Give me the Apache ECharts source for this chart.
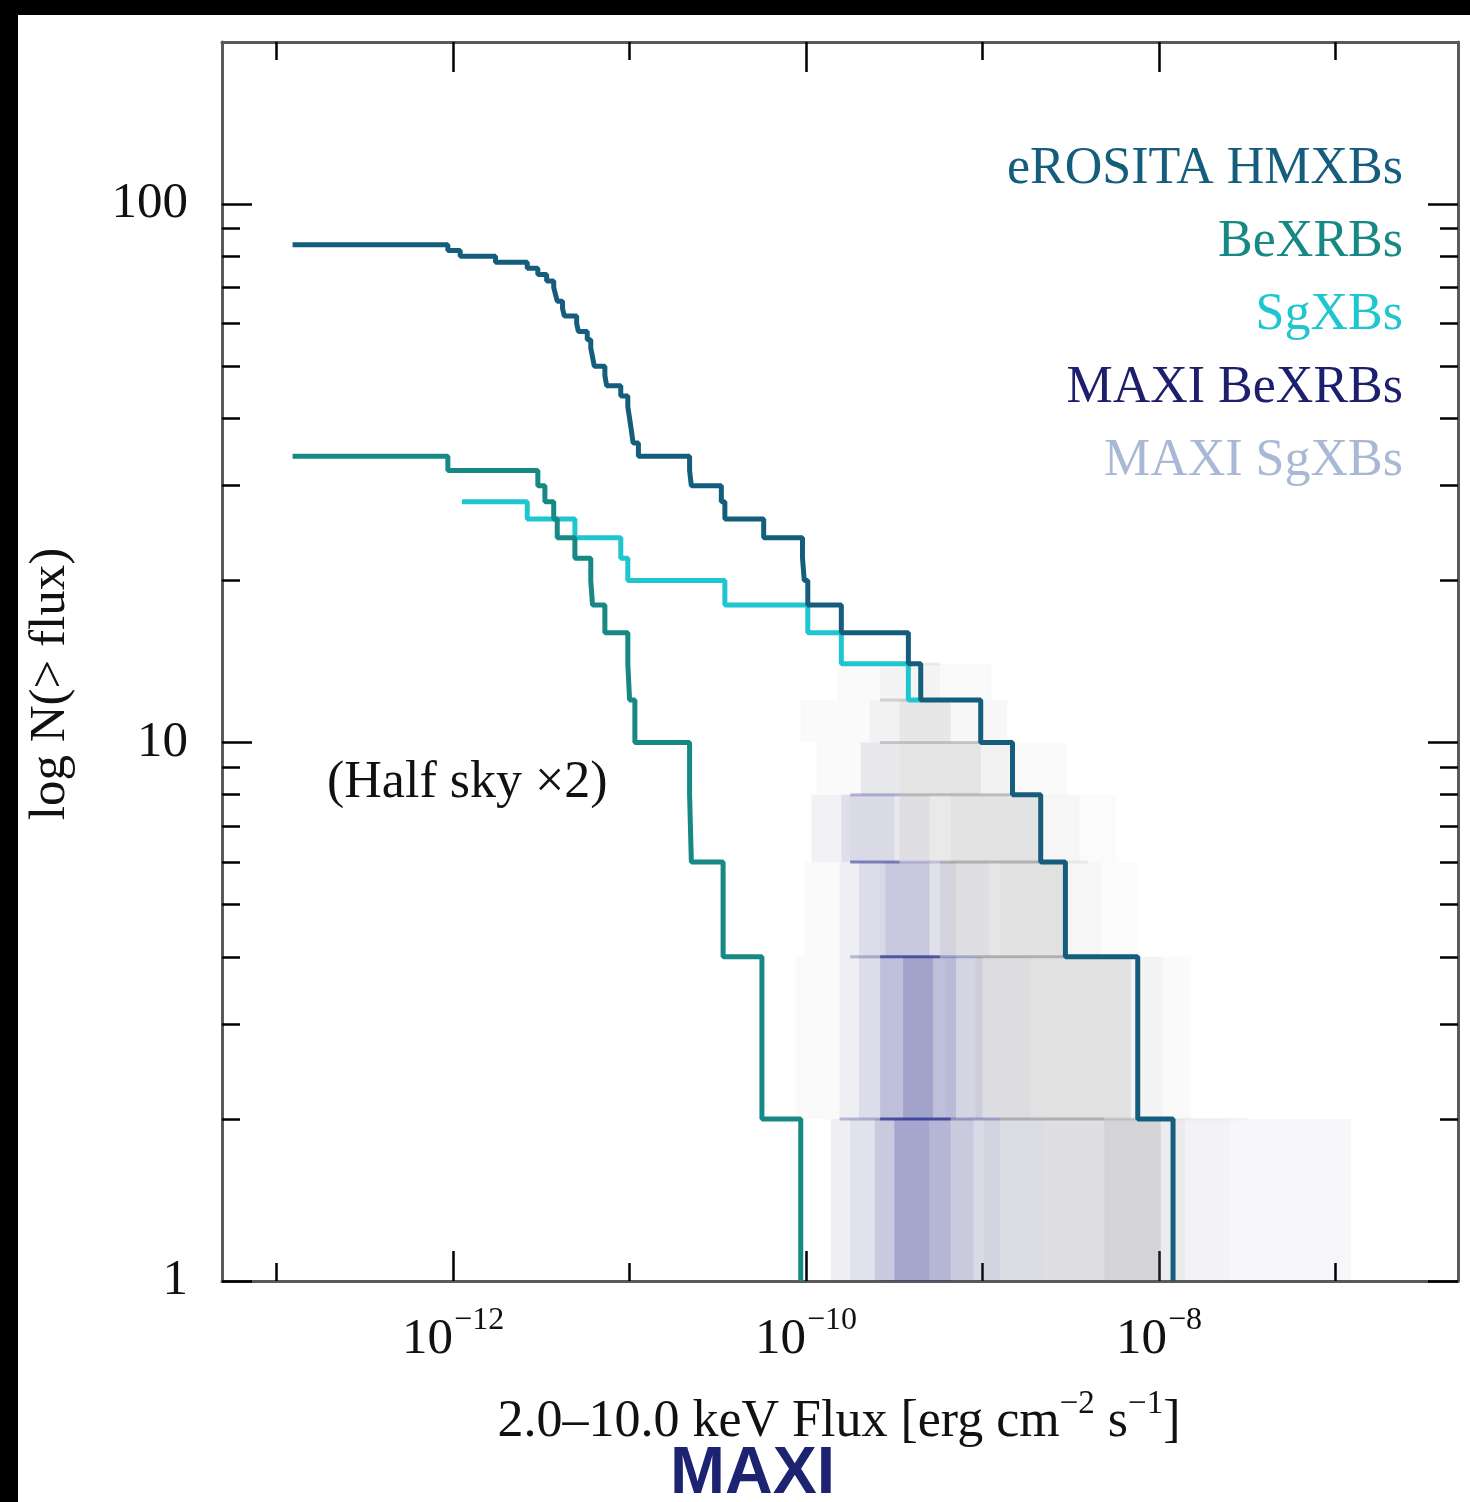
<!DOCTYPE html>
<html>
<head>
<meta charset="utf-8">
<script src="https://cdn.jsdelivr.net/npm/echarts@6/dist/echarts.min.js"></script>
<style>
html,body{margin:0;padding:0;background:#000;width:1470px;height:1502px;overflow:hidden}
#c{position:absolute;left:18px;top:15px;width:1452px;height:1487px;background:#fff}
</style>
</head>
<body>
<div id="c"></div>
<script>
// ---------------- data ----------------
const seriesNames = ['eROSITA HMXBs', 'BeXRBs', 'SgXBs', 'MAXI BeXRBs', 'MAXI SgXBs'];

// axis ranges (flux exponents / counts)
const xLogMin = -13.31, xLogMax = -6.305;
const yMin = 1, yMax = 200;

// tick values
const xLabelValues = [1e-12, 1e-10, 1e-8];
const xMajorTickValues = [1e-12, 1e-10, 1e-8];
const xMinorTickValues = [1e-13, 1e-11, 1e-9, 1e-7];
const yLabelValues = [1, 10, 100];
const yMajorTickValues = [1, 10, 100];
const yMinorTickValues = [2, 3, 4, 5, 6, 7, 8, 9, 20, 30, 40, 50, 60, 70, 80, 90];

// eROSITA HMXBs cumulative counts: log10 flux where N steps to the given value
const erositaLogFlux = [-12.91, -12.03, -11.96, -11.76, -11.58, -11.52, -11.47, -11.43, -11.42, -11.41,
  -11.38, -11.37, -11.30, -11.29, -11.24, -11.22, -11.21, -11.20, -11.14, -11.13,
  -11.05, -11.01, -11.00, -10.99, -10.98, -10.95, -10.66, -10.65, -10.48, -10.46,
  -10.24, -10.02, -10.01, -9.99, -9.80, -9.42, -9.35, -9.01, -8.83, -8.67,
  -8.53, -8.12, -7.92];
const erositaN = [84, 82, 80, 78, 76, 74, 72, 70, 68, 66,
  64, 62, 60, 58, 56, 54, 52, 50, 48, 46,
  44, 42, 40, 38, 36, 34, 32, 30, 28, 26,
  24, 22, 20, 18, 16, 14, 12, 10, 8, 6,
  4, 2, 1];

// BeXRBs
const bexrbLogFlux = [-12.91, -12.03, -11.52, -11.48, -11.43, -11.41, -11.31, -11.22, -11.21, -11.14,
  -11.01, -11.00, -10.97, -10.66, -10.65, -10.47, -10.25, -10.03];
const bexrbN = [34, 32, 30, 28, 26, 24, 22, 20, 18, 16,
  14, 12, 10, 8, 6, 4, 2, 1];

// SgXBs
const sgxbLogFlux = [-11.95, -11.58, -11.31, -11.05, -11.01, -10.46, -9.99, -9.80, -9.42, -9.35];
const sgxbN = [28, 26, 24, 22, 20, 18, 16, 14, 12, 12];

// MAXI realisations, shown as a density haze: [logFluxStart, logFluxEnd, nLow, nHigh, opacity]
// rows with nLow == nHigh are the dense horizontal level lines
const maxiBeHaze = [
  [-9.86, -9.75, 1, 2, 0.04], [-9.75, -9.61, 1, 2, 0.10], [-9.61, -9.50, 1, 2, 0.22], [-9.50, -9.30, 1, 2, 0.40],
  [-9.30, -9.18, 1, 2, 0.32], [-9.18, -9.05, 1, 2, 0.20], [-9.05, -8.90, 1, 2, 0.12], [-8.90, -8.65, 1, 2, 0.07],
  [-8.65, -8.31, 1, 2, 0.04], [-8.31, -6.91, 1, 2, 0.02],
  [-9.81, -9.70, 2, 4, 0.06], [-9.70, -9.58, 2, 4, 0.14], [-9.58, -9.45, 2, 4, 0.28], [-9.45, -9.28, 2, 4, 0.42],
  [-9.28, -9.15, 2, 4, 0.28], [-9.15, -9.00, 2, 4, 0.14], [-9.00, -8.73, 2, 4, 0.06],
  [-9.81, -9.70, 4, 6, 0.06], [-9.70, -9.55, 4, 6, 0.14], [-9.55, -9.30, 4, 6, 0.22], [-9.30, -9.15, 4, 6, 0.10], [-9.15, -8.96, 4, 6, 0.04],
  [-9.97, -9.80, 6, 8, 0.04], [-9.80, -9.50, 6, 8, 0.13], [-9.50, -9.30, 6, 8, 0.06],
  [-9.69, -9.47, 8, 10, 0.04],
  [-9.81, -9.58, 2, 2, 0.30], [-9.58, -9.18, 2, 2, 0.80], [-9.18, -8.90, 2, 2, 0.35],
  [-9.75, -9.58, 4, 4, 0.30], [-9.58, -9.24, 4, 4, 0.75], [-9.24, -9.04, 4, 4, 0.30],
  [-9.75, -9.47, 6, 6, 0.55], [-9.47, -9.24, 6, 6, 0.20],
  [-9.75, -9.47, 8, 8, 0.30]
];
const maxiSgHaze = [
  [-9.86, -9.18, 1, 2, 0.05], [-9.18, -8.99, 1, 2, 0.09], [-8.99, -8.65, 1, 2, 0.14],
  [-8.65, -8.31, 1, 2, 0.17], [-8.31, -7.99, 1, 2, 0.26], [-7.99, -7.85, 1, 2, 0.10], [-7.85, -7.60, 1, 2, 0.05], [-7.60, -6.91, 1, 2, 0.025],
  [-10.06, -9.58, 2, 4, 0.035], [-9.58, -9.21, 2, 4, 0.05], [-9.21, -9.04, 2, 4, 0.10],
  [-9.04, -8.73, 2, 4, 0.16], [-8.73, -8.16, 2, 4, 0.20], [-8.16, -7.98, 2, 4, 0.07], [-7.98, -7.82, 2, 4, 0.03],
  [-10.01, -9.58, 4, 6, 0.035], [-9.58, -9.24, 4, 6, 0.07], [-9.24, -8.90, 4, 6, 0.17],
  [-8.90, -8.53, 4, 6, 0.20], [-8.53, -8.33, 4, 6, 0.06], [-8.33, -8.12, 4, 6, 0.025],
  [-9.97, -9.75, 6, 8, 0.035], [-9.75, -9.47, 6, 8, 0.07], [-9.47, -9.18, 6, 8, 0.15],
  [-9.18, -8.67, 6, 8, 0.19], [-8.67, -8.45, 6, 8, 0.06], [-8.45, -8.24, 6, 8, 0.025],
  [-9.94, -9.69, 8, 10, 0.035], [-9.69, -9.47, 8, 10, 0.10], [-9.47, -9.01, 8, 10, 0.18],
  [-9.01, -8.84, 8, 10, 0.09], [-8.84, -8.52, 8, 10, 0.03],
  [-10.03, -9.64, 10, 12, 0.03], [-9.64, -9.47, 10, 12, 0.09], [-9.47, -9.18, 10, 12, 0.16], [-9.18, -8.86, 10, 12, 0.05],
  [-9.82, -9.58, 12, 14, 0.03], [-9.58, -9.24, 12, 14, 0.07], [-9.24, -8.95, 12, 14, 0.03],
  [-8.90, -8.31, 2, 2, 0.40], [-8.31, -7.99, 2, 2, 0.20], [-7.99, -7.50, 2, 2, 0.05],
  [-9.04, -8.53, 4, 4, 0.40], [-8.53, -8.33, 4, 4, 0.10],
  [-9.24, -8.67, 6, 6, 0.40], [-8.67, -8.40, 6, 6, 0.10],
  [-9.47, -8.84, 8, 8, 0.35],
  [-9.58, -9.01, 10, 10, 0.30],
  [-9.58, -9.18, 12, 12, 0.25],
  [-9.47, -9.24, 14, 14, 0.10]
];

// ---------------- styles ----------------
const SERIF = '"Liberation Serif", "Times New Roman", serif';
const colors = {
  erosita: '#155d7d',
  bexrb: '#168985',
  sgxb: '#1fc6d0',
  maxiBe: '#1c1f6e',
  maxiSg: '#a9b9d5',
  maxiBeHaze: '#2b2f90',
  maxiSgHaze: '#6a6a6a'
};

const toPoints = (logF, n) => logF.map((e, i) => [Math.pow(10, e), n[i]]);
const toHaze = rows => rows.map(r => [Math.pow(10, r[0]), Math.pow(10, r[1]), r[2], r[3], r[4]]);

function hazeRenderer(color) {
  return function (params, api) {
    const f0 = api.value(0), f1 = api.value(1), lo = api.value(2), hi = api.value(3), op = api.value(4);
    if (lo === hi) {
      const a = api.coord([f0, lo]);
      const b = api.coord([f1, lo]);
      return { type: 'rect', shape: { x: a[0], y: a[1] - 1.5, width: b[0] - a[0], height: 3 },
        style: { fill: color, opacity: op } };
    }
    const a = api.coord([f0, hi]);
    const b = api.coord([f1, lo]);
    return { type: 'rect', shape: { x: a[0], y: a[1], width: b[0] - a[0], height: b[1] - a[1] },
      style: { fill: color, opacity: op } };
  };
}

const frameLine = { show: true, lineStyle: { color: '#5a5a5a', width: 3 } };
const tickStyle = { color: '#000', width: 2.5 };
const xBase = {
  type: 'log', logBase: 10, min: Math.pow(10, xLogMin), max: Math.pow(10, xLogMax),
  splitLine: { show: false }, minorTick: { show: false }, minorSplitLine: { show: false }
};
const yBase = {
  type: 'log', logBase: 10, min: yMin, max: yMax,
  splitLine: { show: false }, minorTick: { show: false }, minorSplitLine: { show: false }
};
const supDigits = e => (e < 0 ? '\u2212' : '') + Math.abs(e);

const option = {
  backgroundColor: '#fff',
  animation: false,
  grid: { left: 204, top: 27, width: 1236, height: 1239, containLabel: false },
  xAxis: [
    Object.assign({}, xBase, {
      position: 'bottom', axisLine: frameLine,
      axisTick: { show: true, inside: true, length: 30, lineStyle: tickStyle, customValues: xMajorTickValues },
      axisLabel: {
        show: true, customValues: xLabelValues, margin: 24,
        formatter: v => '{b|10}{s|' + supDigits(Math.round(Math.log10(v))) + '}',
        rich: {
          b: { fontFamily: SERIF, fontSize: 51, color: '#111', lineHeight: 60, verticalAlign: 'bottom' },
          s: { fontFamily: SERIF, fontSize: 32, color: '#111', lineHeight: 32, verticalAlign: 'top', padding: [0, 0, 0, 1] }
        }
      }
    }),
    Object.assign({}, xBase, {
      position: 'bottom', axisLine: { show: false },
      axisTick: { show: true, inside: true, length: 18, lineStyle: tickStyle, customValues: xMinorTickValues },
      axisLabel: { show: false }
    }),
    Object.assign({}, xBase, {
      position: 'top', axisLine: frameLine,
      axisTick: { show: true, inside: true, length: 30, lineStyle: tickStyle, customValues: xMajorTickValues },
      axisLabel: { show: false }
    }),
    Object.assign({}, xBase, {
      position: 'top', axisLine: { show: false },
      axisTick: { show: true, inside: true, length: 18, lineStyle: tickStyle, customValues: xMinorTickValues },
      axisLabel: { show: false }
    })
  ],
  yAxis: [
    Object.assign({}, yBase, {
      position: 'left', axisLine: frameLine,
      axisTick: { show: true, inside: true, length: 30, lineStyle: tickStyle, customValues: yMajorTickValues },
      axisLabel: {
        show: true, customValues: yLabelValues, margin: 34,
        formatter: v => String(Math.round(v)),
        fontFamily: SERIF, fontSize: 51, color: '#111'
      }
    }),
    Object.assign({}, yBase, {
      position: 'left', axisLine: { show: false },
      axisTick: { show: true, inside: true, length: 18, lineStyle: tickStyle, customValues: yMinorTickValues },
      axisLabel: { show: false }
    }),
    Object.assign({}, yBase, {
      position: 'right', axisLine: frameLine,
      axisTick: { show: true, inside: true, length: 30, lineStyle: tickStyle, customValues: yMajorTickValues },
      axisLabel: { show: false }
    }),
    Object.assign({}, yBase, {
      position: 'right', axisLine: { show: false },
      axisTick: { show: true, inside: true, length: 18, lineStyle: tickStyle, customValues: yMinorTickValues },
      axisLabel: { show: false }
    })
  ],
  legend: {
    orient: 'vertical', right: 62, top: 118, padding: 0,
    align: 'right', icon: 'none', itemWidth: 0, itemHeight: 10, itemGap: 1,
    selectedMode: false,
    textStyle: { fontFamily: SERIF, fontSize: 52, lineHeight: 72 },
    data: [
      { name: seriesNames[0], textStyle: { color: colors.erosita } },
      { name: seriesNames[1], textStyle: { color: colors.bexrb } },
      { name: seriesNames[2], textStyle: { color: colors.sgxb } },
      { name: seriesNames[3], textStyle: { color: colors.maxiBe } },
      { name: seriesNames[4], textStyle: { color: colors.maxiSg } }
    ]
  },
  series: [
    {
      name: seriesNames[4], type: 'custom', xAxisIndex: 0, yAxisIndex: 0, z: 1, clip: true,
      itemStyle: { color: colors.maxiSg },
      encode: { x: [0, 1], y: [2, 3] },
      renderItem: hazeRenderer(colors.maxiSgHaze),
      data: toHaze(maxiSgHaze)
    },
    {
      name: seriesNames[3], type: 'custom', xAxisIndex: 0, yAxisIndex: 0, z: 1, clip: true,
      itemStyle: { color: colors.maxiBe },
      encode: { x: [0, 1], y: [2, 3] },
      renderItem: hazeRenderer(colors.maxiBeHaze),
      data: toHaze(maxiBeHaze)
    },
    {
      name: seriesNames[2], type: 'line', step: 'end', xAxisIndex: 0, yAxisIndex: 0, z: 3,
      symbol: 'none', showSymbol: false, color: colors.sgxb,
      lineStyle: { color: colors.sgxb, width: 5 },
      data: toPoints(sgxbLogFlux, sgxbN)
    },
    {
      name: seriesNames[1], type: 'line', step: 'end', xAxisIndex: 0, yAxisIndex: 0, z: 4,
      symbol: 'none', showSymbol: false, color: colors.bexrb,
      lineStyle: { color: colors.bexrb, width: 5 },
      data: toPoints(bexrbLogFlux, bexrbN)
    },
    {
      name: seriesNames[0], type: 'line', step: 'end', xAxisIndex: 0, yAxisIndex: 0, z: 5,
      symbol: 'none', showSymbol: false, color: colors.erosita,
      lineStyle: { color: colors.erosita, width: 5 },
      data: toPoints(erositaLogFlux, erositaN)
    }
  ],
  graphic: [
    {
      type: 'text', x: 33, y: 669, rotation: Math.PI / 2, z: 10,
      style: { text: 'log N(> flux)', font: '51px ' + SERIF, fill: '#111', align: 'center', verticalAlign: 'middle' }
    },
    {
      type: 'text', x: 821, y: 1403, z: 10,
      style: {
        text: '{a|2.0\u201310.0 keV Flux [erg cm}{s|\u22122}{a| s}{s|\u22121}{a|]}',
        align: 'center', verticalAlign: 'middle',
        rich: {
          a: { fontFamily: SERIF, fontSize: 52, fill: '#111', lineHeight: 60, verticalAlign: 'bottom' },
          s: { fontFamily: SERIF, fontSize: 33, fill: '#111', lineHeight: 32, verticalAlign: 'top' }
        }
      }
    },
    {
      type: 'text', x: 309, y: 768, z: 10,
      style: { text: '(Half sky \u00d72)', font: '52px ' + SERIF, fill: '#111', align: 'left', verticalAlign: 'middle' }
    },
    {
      type: 'text', x: 652, y: 1460, z: 10,
      style: { text: 'MAXI', font: 'bold 66px "Liberation Sans", Arial, sans-serif', fill: '#1c2472', align: 'left', verticalAlign: 'middle' }
    }
  ]
};

const chart = echarts.init(document.getElementById('c'), null, { renderer: 'canvas' });
chart.setOption(option);
</script>
</body>
</html>
